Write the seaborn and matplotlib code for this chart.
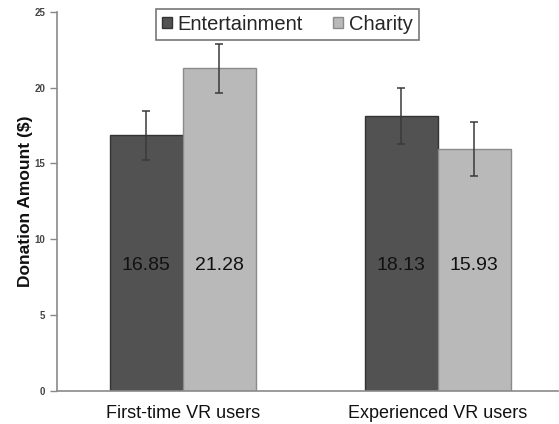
import matplotlib
matplotlib.use("Agg")
import matplotlib.pyplot as plt
import seaborn as sns
import pandas as pd

# Donation amounts by user group and video condition
groups = ["First-time VR users", "Experienced VR users"]
conditions = ["Entertainment", "Charity"]
means_entertainment = [16.85, 18.13]
means_charity = [21.28, 15.93]
se_entertainment = [1.63, 1.85]
se_charity = [1.61, 1.78]
y_ticks = [0, 5, 10, 15, 20, 25]

df = pd.DataFrame({
    "group": groups * 2,
    "condition": [conditions[0]] * 2 + [conditions[1]] * 2,
    "amount": means_entertainment + means_charity,
    "se": se_entertainment + se_charity,
})

sns.set_theme(style="white")
plt.rcParams["font.family"] = ["Liberation Sans", "DejaVu Sans"]

fig = plt.figure(figsize=(5.59, 4.24), dpi=100)
ax = fig.add_axes([0.102, 0.078, 0.896, 0.894])

palette = {"Entertainment": "#525252", "Charity": "#b9b9b9"}
sns.barplot(data=df, x="group", y="amount", hue="condition",
            order=groups, hue_order=conditions, palette=palette,
            errorbar=None, width=0.573, saturation=1, ax=ax,
            linewidth=1.0, edgecolor="#3c3c3c")

edge_cols = {"Entertainment": "#333333", "Charity": "#8a8a8a"}
bars = ax.patches[:4]
# patches are ordered by hue then by group
order = [(c, g) for c in conditions for g in groups]
for bar, (c, g) in zip(bars, order):
    row = df[(df.condition == c) & (df.group == g)].iloc[0]
    bar.set_edgecolor(edge_cols[c])
    xc = bar.get_x() + bar.get_width() / 2
    ax.errorbar(xc, row.amount, yerr=row.se, fmt="none", ecolor="#3a3a3a",
                elinewidth=1.1, capsize=3, capthick=1.1, zorder=5)
    ax.text(xc, 8.3, f"{row.amount:.2f}", ha="center", va="center",
            fontsize=14, color="#111111")

ax.set_xlim(-0.494, 1.471)
ax.set_ylim(0, 25)
ax.set_yticks(y_ticks)
ax.set_yticklabels([str(t) for t in y_ticks], fontsize=7, fontweight="bold",
                   color="#444444")
ax.tick_params(axis="y", which="both", left=True, length=5, width=1,
               color="#888888", pad=3.5)
ax.tick_params(axis="x", bottom=False, labelsize=13, pad=4, labelcolor="#111111")
ax.set_xlabel("")
ax.set_ylabel("Donation Amount ($)", fontsize=12.5, fontweight="bold",
              color="#111111", labelpad=1)

for side in ["top", "right"]:
    ax.spines[side].set_visible(False)
for side in ["left", "bottom"]:
    ax.spines[side].set_color("#8a8a8a")
    ax.spines[side].set_linewidth(1.2)

leg = ax.legend(ncol=2, loc="upper center", bbox_to_anchor=(0.46, 1.008),
                fontsize=14.5, frameon=True, fancybox=False, edgecolor="#777777",
                handlelength=0.5, handleheight=0.5, handletextpad=0.3,
                columnspacing=1.5, borderpad=0.3, borderaxespad=0,
                framealpha=1)
leg.get_frame().set_linewidth(1.2)
for h, c in zip(leg.legend_handles, conditions):
    h.set_edgecolor(edge_cols[c])

fig.savefig("out.png", dpi=100)
